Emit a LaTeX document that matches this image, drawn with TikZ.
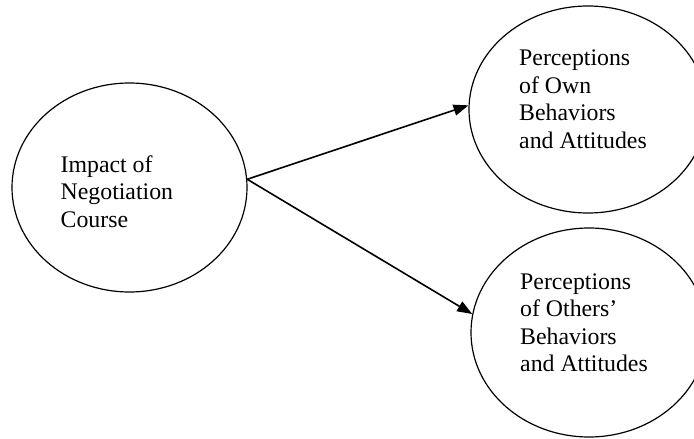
\documentclass[tikz,border=0pt]{standalone}
\usepackage{fontspec}
\setmainfont{Liberation Serif}
\usetikzlibrary{shapes.geometric,arrows.meta}
\tikzset{
  bubble/.style={ellipse,draw,line width=1.2pt,inner sep=0pt},
  label/.style={anchor=base west,inner sep=0pt,font=\fontsize{23.8}{27.5}\selectfont},
  link/.style={line width=1.6pt,-{Triangle[length=15pt,width=11pt]}}
}
\begin{document}
\begin{tikzpicture}[x=1pt,y=-1pt]
\useasboundingbox (0,0) rectangle (694,439);
\node[bubble,minimum width=235pt,minimum height=209pt] (L) at (129.5,187.5) {};
\node[bubble,minimum width=238pt,minimum height=207pt] (T) at (588,109.5) {};
\node[bubble,minimum width=236pt,minimum height=209pt] (B) at (589,332.5) {};
\node[label] (Ltext) at (60.5,172) {\begin{tabular}[t]{@{}l@{}}Impact of\\Negotiation\\Course\end{tabular}};
\node[label] (Ttext) at (519,65.5) {\begin{tabular}[t]{@{}l@{}}Perceptions\\of Own\\Behaviors\\and Attitudes\end{tabular}};
\node[label] (Btext) at (520,289) {\begin{tabular}[t]{@{}l@{}}Perceptions\\of Others’\\Behaviors\\and Attitudes\end{tabular}};
\draw[link] (L.4) -- (T.178);
\draw[link] (L.4) -- (B.171);
\end{tikzpicture}
\end{document}
